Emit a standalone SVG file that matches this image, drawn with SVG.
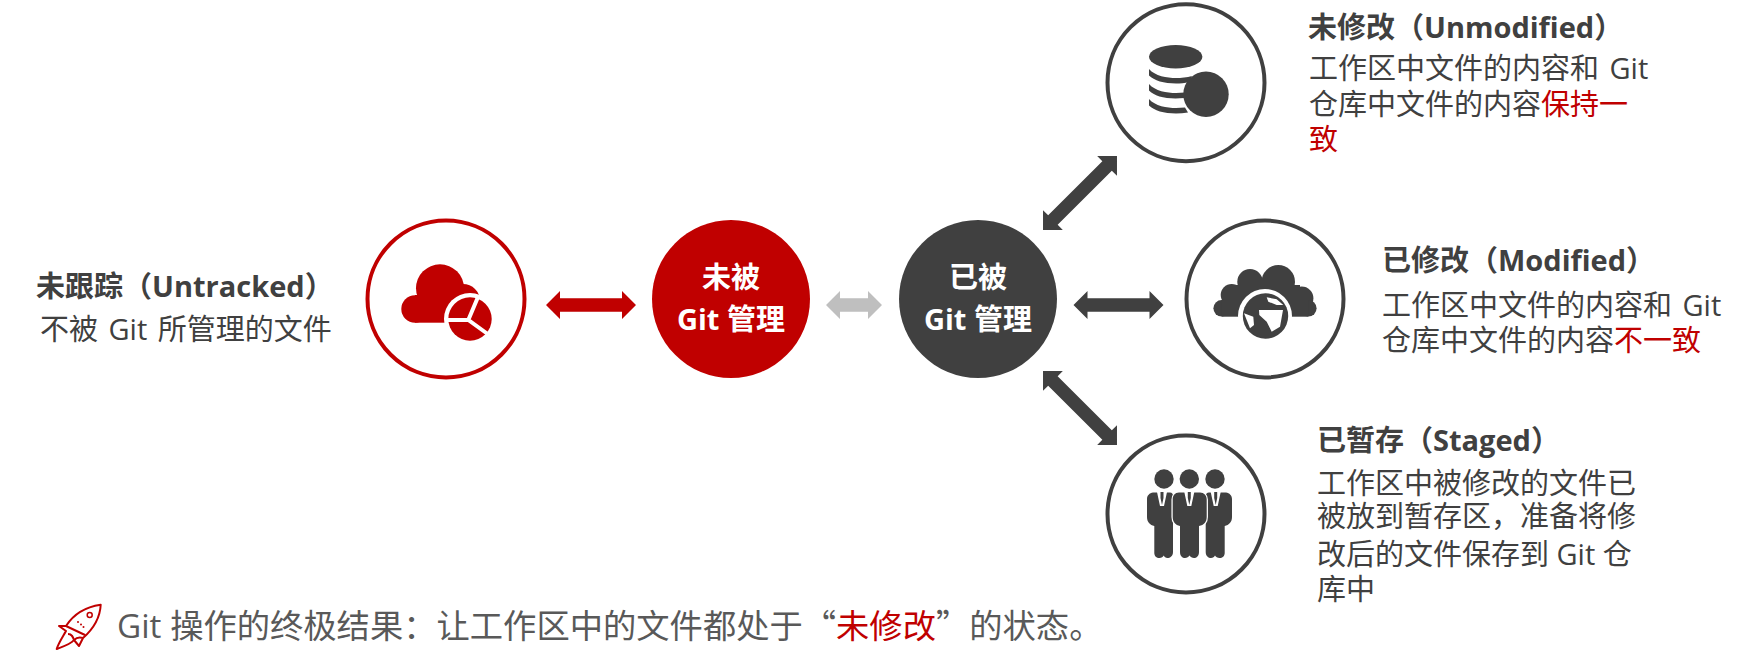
<svg xmlns="http://www.w3.org/2000/svg" width="1748" height="667" viewBox="0 0 1748 667">
<style>
text{font-family:"Open Sans","Noto Sans CJK SC",sans-serif;font-size:29px;fill:#404040}
.b{font-weight:700}
.s{word-spacing:3px}
.w{fill:#fff;font-weight:700;text-anchor:middle}
.r{fill:#c00000}
.q{font-family:"Noto Sans CJK SC",sans-serif}
.o{fill:#fff;stroke-width:4}
.g{fill:#404040}
.f{fill:#c00000}
</style>
<defs><polygon id="a" points="-45,0 -31,-14 -31,-6.7 31,-6.7 31,-14 45,0 31,14 31,6.7 -31,6.7 -31,14"/>
<polygon id="d" points="-52.3,0 -38.3,-14 -38.3,-6.7 38.3,-6.7 38.3,-14 52.3,0 38.3,14 38.3,6.7 -38.3,6.7 -38.3,14"/></defs>
<g id="connectors">
<use href="#a" x="591" y="305" fill="#c00000"/>
<polygon fill="#bfbfbf" points="826,305 840,291 840,298.300 868,298.300 868,291 882,305 868,319 868,311.700 840,311.700 840,319"/>
<use href="#a" x="1118.500" y="305" fill="#404040"/>
<use href="#d" transform="translate(1080 193) rotate(-45)" fill="#404040"/>
<use href="#d" transform="translate(1080 408) rotate(45)" fill="#404040"/>
</g>
<g id="untracked">
<circle class="o" cx="446" cy="299" r="78.500" stroke="#c00000"/>
<g class="f"><circle cx="440" cy="288.300" r="24"/><circle cx="415" cy="309" r="13.700"/><circle cx="463" cy="301" r="17"/><rect x="415" y="295" width="65" height="27.700"/></g>
<circle cx="470" cy="319" r="26" fill="#fff"/>
<circle class="f" cx="470" cy="319" r="21.700"/>
<path d="M447 320H468.300L487 333.500M468.300 320L478 297" fill="none" stroke="#fff" stroke-width="4"/>
<text class="b" x="36" y="297">未跟踪（Untracked）</text>
<text class="s" x="40" y="340">不被 Git 所管理的文件</text>
</g>
<g id="not-managed">
<circle class="f" cx="731" cy="299" r="79"/>
<text class="w" x="731" y="288">未被</text>
<text class="w" x="731" y="330">Git 管理</text>
</g>
<g id="managed">
<circle class="g" cx="978" cy="299" r="79"/>
<text class="w" x="978" y="288">已被</text>
<text class="w" x="978" y="330">Git 管理</text>
</g>
<g id="unmodified">
<circle class="o" cx="1186" cy="82.700" r="78.500" stroke="#404040"/>
<ellipse class="g" cx="1175.700" cy="56.700" rx="26.700" ry="11.700"/>
<path class="g" d="M1149 69c6 7 18 9 27 9 5 0 11-.5 16-2l-3 6c-4 1-9 1.500-13 1.500-12 0-22-3-27-8ZM1149 84c6 7 18 9 27 9 3 0 6-.2 9-.5l-.5 5.500c-3 .3-6 .5-9 .5-12 0-22-3-26.500-8ZM1149 99c6 7 18 9 27 9 3 0 6-.2 9-.5l3 5c-4 .5-8 1-12 1-12 0-22-3-27-8Z"/>
<circle class="g" cx="1206" cy="94.300" r="22.700"/>
<text class="b" x="1308" y="38">未修改（Unmodified）</text>
<text class="s" x="1309" y="79">工作区中文件的内容和 Git</text>
<text x="1309" y="115">仓库中文件的内容<tspan class="r">保持一</tspan></text>
<text class="r" x="1309" y="150">致</text>
</g>
<g id="modified">
<circle class="o" cx="1265" cy="299" r="78.500" stroke="#404040"/>
<g class="g"><circle cx="1221.700" cy="308.300" r="8.300"/><circle cx="1231.700" cy="295" r="11"/><circle cx="1250" cy="281.700" r="12.700"/><circle cx="1278.300" cy="281.700" r="16.700"/><circle cx="1301.700" cy="298.300" r="11.700"/><circle cx="1308.300" cy="308.300" r="8.300"/><rect x="1221.700" y="300" width="86.600" height="16.700"/><rect x="1232" y="285" width="68" height="20"/></g>
<circle cx="1265" cy="316" r="27" fill="#fff"/>
<circle class="g" cx="1265.500" cy="316" r="22.700"/>
<path fill="#fff" d="M1259 310L1283 310L1280 326.700L1271.700 331.700L1266.700 321.700L1259.300 315ZM1244 313.300L1253.300 316.700L1254 325L1250 328.300ZM1266.700 297.300L1276.700 299.300L1283.300 305L1276.700 305L1268.300 301.700Z"/>
<text class="b" x="1382" y="271">已修改（Modified）</text>
<text class="s" x="1382" y="316">工作区中文件的内容和 Git</text>
<text x="1382" y="351">仓库中文件的内容<tspan class="r">不一致</tspan></text>
</g>
<g id="staged">
<circle class="o" cx="1186" cy="514" r="78.500" stroke="#404040"/>
<g class="g">
<circle cx="1164" cy="479" r="9.700"/><circle cx="1189.300" cy="479" r="9.700"/><circle cx="1215" cy="479" r="9.700"/>
<path d="M1153 492.500L1170 492.500C1172 492.500 1173 494 1173 496L1173 552C1173 556 1170 558 1167.500 558C1165.500 558 1164.500 557 1163.700 555.500C1163 557 1161.500 558 1159.500 558C1156.500 558 1154.300 556 1154.300 553L1154.300 526C1150 525 1147 522 1147 517L1147 499C1147 495.500 1149.500 493 1153 492.500Z"/>
<path d="M1226 492.500L1209 492.500C1207 492.500 1205.700 494 1205.700 496L1205.700 552C1205.700 556 1208.500 558 1211 558C1213 558 1214.200 557 1215 555.500C1215.800 557 1217.500 558 1219.500 558C1222.500 558 1224.700 556 1224.700 553L1224.700 526C1229 525 1232 522 1232 517L1232 499C1232 495.500 1229.500 493 1226 492.500Z"/>
<path stroke="#fff" stroke-width="2.500" paint-order="stroke" d="M1179 492.500L1200 492.500C1204 492.500 1206.700 495.500 1206.700 499.500L1206.700 517C1206.700 522 1204 525 1199 526L1199 552C1199 556 1196.500 558 1194 558C1192 558 1190.500 557 1189.500 555.500C1188.500 557 1187 558 1185 558C1182.500 558 1180 556 1180 552L1180 526C1175.500 525 1172.700 522 1172.700 517L1172.700 499.500C1172.700 495.500 1175 492.500 1179 492.500Z"/>
</g>
<path fill="#fff" d="M1157 492H1167L1164 506H1160ZM1184.300 492H1194.300L1191.300 506H1187.300ZM1210.700 492H1220.700L1217.700 506H1213.700Z"/>
<path class="g" d="M1160.500 492H1163.500L1163.500 498L1162 505L1160.500 498ZM1187.800 492H1190.800L1190.800 498L1189.300 505L1187.800 498ZM1214.200 492H1217.200L1217.200 498L1215.700 505L1214.200 498Z"/>
<text class="b" x="1317" y="451">已暂存（Staged）</text>
<text x="1317" y="494">工作区中被修改的文件已</text>
<text x="1317" y="527">被放到暂存区，准备将修</text>
<text x="1317" y="565">改后的文件保存到 Git 仓</text>
<text x="1317" y="600">库中</text>
</g>
<g id="note">
<path fill="none" stroke="#c00000" stroke-width="2" stroke-linejoin="round" d="M100.700 604.700C85 607 73 615 66 626L59 626L66 631C62 638 58 644 56.700 649C62 647 71 644 74 640L79 646L83 638C92 630 100 620 100.700 604.700ZM66 626L85 635M68 634C72 634 73 637 74 640M74 640C77 637 80 637 83 638"/>
<circle cx="89.700" cy="615" r="2.500" fill="none" stroke="#c00000" stroke-width="1.500"/>
<circle cx="78" cy="622" r="1" class="f"/><circle cx="81" cy="624.500" r="1" class="f"/><circle cx="83.500" cy="627" r="1" class="f"/>
<text x="117" y="638" style="font-size:33.300px;fill:#595959">Git 操作的终极结果：让工作区中的文件都处于<tspan class="q">“</tspan><tspan class="r">未修改</tspan><tspan class="q">”</tspan>的状态。</text>
</g>
</svg>
